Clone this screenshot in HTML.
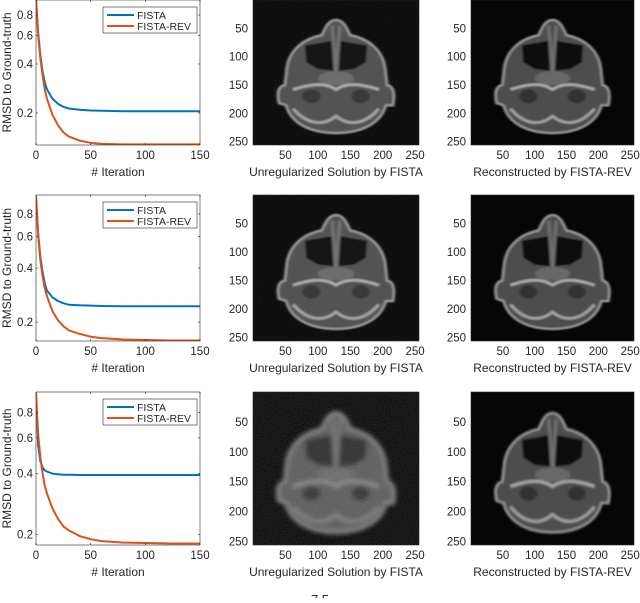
<!DOCTYPE html>
<html><head><meta charset="utf-8">
<style>
html,body{margin:0;padding:0;background:#fff;}
body{width:640px;height:598px;overflow:hidden;font-family:"Liberation Sans",sans-serif;}
svg text{font-family:"Liberation Sans",sans-serif;fill:#262626;}
</style></head>
<body>
<svg id="fig" width="640" height="598" viewBox="0 0 640 598" xmlns="http://www.w3.org/2000/svg">
<defs>
  <filter id="blur1" x="-10%" y="-10%" width="120%" height="120%"><feGaussianBlur stdDeviation="1.6"/></filter>
  <filter id="blur3" x="-20%" y="-20%" width="140%" height="140%"><feGaussianBlur stdDeviation="3.5"/></filter>
  <filter id="noise" x="0" y="0" width="100%" height="100%">
    <feTurbulence type="fractalNoise" baseFrequency="0.9" numOctaves="1" seed="3"/>
    <feColorMatrix values="0 0 0 0 1  0 0 0 0 1  0 0 0 0 1  0 0 0 0.35 -0.05"/>
  </filter>
</defs>
</svg>
<script>
const NS='http://www.w3.org/2000/svg';
const fig=document.getElementById('fig');
function mk(tag,attrs,parent){const e=document.createElementNS(NS,tag);for(const k in attrs)e.setAttribute(k,attrs[k]);(parent||fig).appendChild(e);return e;}

// ---- data ----
const iterations=[0,2,4,6,8,10,15,20,25,30,40,50,60,80,100,125,150];
const fista1=[1.0,0.62,0.45,0.36,0.31,0.28,0.245,0.228,0.218,0.213,0.209,0.207,0.206,0.205,0.205,0.205,0.205];
const rev1=[1.0,0.6,0.43,0.34,0.28,0.245,0.195,0.168,0.152,0.143,0.135,0.131,0.129,0.128,0.128,0.128,0.128];
const fista2=[1.0,0.62,0.46,0.38,0.33,0.30,0.275,0.262,0.255,0.25,0.248,0.247,0.246,0.245,0.245,0.245,0.245];
const rev2=[1.0,0.6,0.44,0.36,0.31,0.28,0.23,0.205,0.19,0.18,0.172,0.166,0.163,0.16,0.159,0.158,0.158];
const fista3=[1.0,0.55,0.46,0.43,0.415,0.41,0.40,0.397,0.395,0.395,0.394,0.394,0.394,0.394,0.394,0.394,0.394];
const rev3=[1.0,0.62,0.48,0.40,0.35,0.32,0.27,0.24,0.22,0.21,0.197,0.19,0.186,0.183,0.182,0.181,0.181];
const xTicks=[0,50,100,150];
const yTicks=[0.2,0.4,0.6,0.8];
const imgTicks=[50,100,150,200,250];
const seriesNames=['FISTA','FISTA-REV'];

const panels=[
 {top:0,bot:145,ymin:0.127,ymax:0.99,f:fista1,r:rev1},
 {top:195,bot:341,ymin:0.157,ymax:1.02,f:fista2,r:rev2},
 {top:392,bot:545,ymin:0.178,ymax:1.01,f:fista3,r:rev3}
];
const L=36,R=200;

panels.forEach((p,i)=>{
  const g=mk('g',{});
  
  
  const xs=v=>L+(v-0)/(150-0)*(R-L);
  const ys=v=>p.bot-(Math.log10(v)-Math.log10(p.ymin))/(Math.log10(p.ymax)-Math.log10(p.ymin))*(p.bot-p.top);
  mk('rect',{x:L,y:p.top,width:R-L,height:p.bot-p.top,fill:'#fff'},g);
  const clipId='clip'+i;
  const cp=mk('clipPath',{id:clipId},g);mk('rect',{x:L,y:p.top,width:R-L,height:p.bot-p.top},cp);
  [[p.f,'#0072bd','fista'],[p.r,'#d95319','fista-rev']].forEach(([arr,col,nm])=>{
    const d=arr.map((v,k)=>(k?'L':'M')+xs(iterations[k]).toFixed(1)+','+ys(v).toFixed(1)).join('');
    const pa=mk('path',{d:d,fill:'none',stroke:col,'stroke-width':2,'clip-path':'url(#'+clipId+')','stroke-linejoin':'round'},g);
    
    
  });
  mk('rect',{x:L,y:p.top,width:R-L,height:p.bot-p.top,fill:'none',stroke:'#262626','stroke-width':0.6},g);
  xTicks.forEach(t=>{
    const x=xs(t);
    mk('line',{x1:x,x2:x,y1:p.bot,y2:p.bot-2,stroke:'#262626','stroke-width':0.6},g);
    mk('line',{x1:x,x2:x,y1:p.top,y2:p.top+2,stroke:'#262626','stroke-width':0.6},g);
    const tx=mk('text',{x:x,y:p.bot+14,'font-size':11.5,'text-anchor':'middle'},g);tx.textContent=t;
    
    
  });
  yTicks.forEach(t=>{
    const y=ys(t);
    mk('line',{x1:L,x2:L+2,y1:y,y2:y,stroke:'#262626','stroke-width':0.6},g);
    mk('line',{x1:R,x2:R-2,y1:y,y2:y,stroke:'#262626','stroke-width':0.6},g);
    const tx=mk('text',{x:L-3,y:y+4,'font-size':11.5,'text-anchor':'end'},g);tx.textContent=t;
    
    
  });
  const xl=mk('text',{x:(L+R)/2,y:p.bot+31,'font-size':12,'text-anchor':'middle'},g);xl.textContent='# Iteration';
  
  
  const yl=mk('text',{x:0,y:0,'font-size':12,'text-anchor':'middle',transform:'translate(11,'+((p.top+p.bot)/2)+') rotate(-90)'},g);yl.textContent='RMSD to Ground-truth';
  
  
  const lg=mk('g',{},g);
  
  
  const ly=p.top+7;
  mk('rect',{x:103,y:ly,width:94,height:26,fill:'#fff',stroke:'#262626','stroke-width':0.6},lg);
  [['#0072bd',0],['#d95319',1]].forEach(([c,k])=>{
    const yy=ly+8+k*11;
    mk('line',{x1:107,x2:134,y1:yy,y2:yy,stroke:c,'stroke-width':2},lg);
    const t=mk('text',{x:137,y:yy+4,'font-size':10.5},lg);t.textContent=seriesNames[k];
    
    
  });
});

// ---- CT images ----
const headPath='M128,35 C140,35 145,50 150,62 C178,68 200,88 204,120 L207,150 C216,152 220,162 216,186 L205,186 C198,216 170,235 128,235 C86,235 58,216 51,186 L40,182 C36,162 40,152 49,150 L52,120 C56,88 78,68 106,62 C111,50 116,35 128,35 Z';
const cols=[{x:253,w:166,title:'Unregularized Solution by FISTA'},{x:471,w:163,title:'Reconstructed by FISTA-REV'}];
panels.forEach((p,i)=>{
  cols.forEach((c,j)=>{
    const g=mk('g',{});
    
    
    const h=p.bot-p.top, sx=c.w/256, sy=h/256;
    mk('rect',{x:c.x,y:p.top,width:c.w,height:h,fill:'#060606'},g);
    const blurry=(j===0&&i===2);
    const ig=mk('g',{transform:'translate('+c.x+','+p.top+') scale('+sx+','+sy+')',filter:blurry?'url(#blur3)':'url(#blur1)'},g);
    const base=blurry?'#585858':'#4e4e4e';
    mk('path',{d:headPath,fill:base,stroke:blurry?'#7e7e7e':'#9a9a9a','stroke-width':blurry?6:4},ig);
    mk('path',{d:'M80,80 L122,72 L124,125 L100,122 L82,110 Z',fill:blurry?'#2a2a2a':'#0a0a0a'},ig);
    mk('path',{d:'M176,80 L134,72 L132,125 L156,122 L174,110 Z',fill:blurry?'#2a2a2a':'#0a0a0a'},ig);
    mk('path',{d:'M122,45 L128,130 L134,45',fill:'none',stroke:'#6e6e6e','stroke-width':5},ig);
    mk('path',{d:'M62,158 C90,148 110,145 128,158 C146,145 166,148 194,158',fill:'none',stroke:blurry?'#8a8a8a':'#a8a8a8','stroke-width':5},ig);
    mk('path',{d:'M62,192 C85,222 110,222 128,205 C146,222 171,222 194,192',fill:'none',stroke:blurry?'#808080':'#a0a0a0','stroke-width':5},ig);
    mk('ellipse',{cx:128,cy:138,rx:28,ry:12,fill:'#686868'},ig);
    mk('ellipse',{cx:90,cy:170,rx:14,ry:12,fill:'#303030'},ig);
    mk('ellipse',{cx:166,cy:170,rx:14,ry:12,fill:'#303030'},ig);
    if(j===0) mk('rect',{x:c.x,y:p.top,width:c.w,height:h,filter:'url(#noise)',opacity:blurry?0.6:0.3},g);
    mk('rect',{x:c.x,y:p.top,width:c.w,height:h,fill:'none',stroke:'#262626','stroke-width':0.6},g);
    imgTicks.forEach(t=>{
      const x=c.x+t*sx, y=p.top+t*sy;
      const tx=mk('text',{x:x,y:p.bot+14,'font-size':11.5,'text-anchor':'middle'},g);tx.textContent=t;
      
      
      const ty=mk('text',{x:c.x-5,y:y+4,'font-size':11.5,'text-anchor':'end'},g);ty.textContent=t;
      
      
    });
    const tt=mk('text',{x:c.x+c.w/2,y:p.bot+31,'font-size':12,'text-anchor':'middle'},g);tt.textContent=c.title;
    
    
  });
});
const cap=mk('text',{x:320,y:604,'font-size':13,'text-anchor':'middle'});cap.textContent='7.5';


</script>
</body></html>
